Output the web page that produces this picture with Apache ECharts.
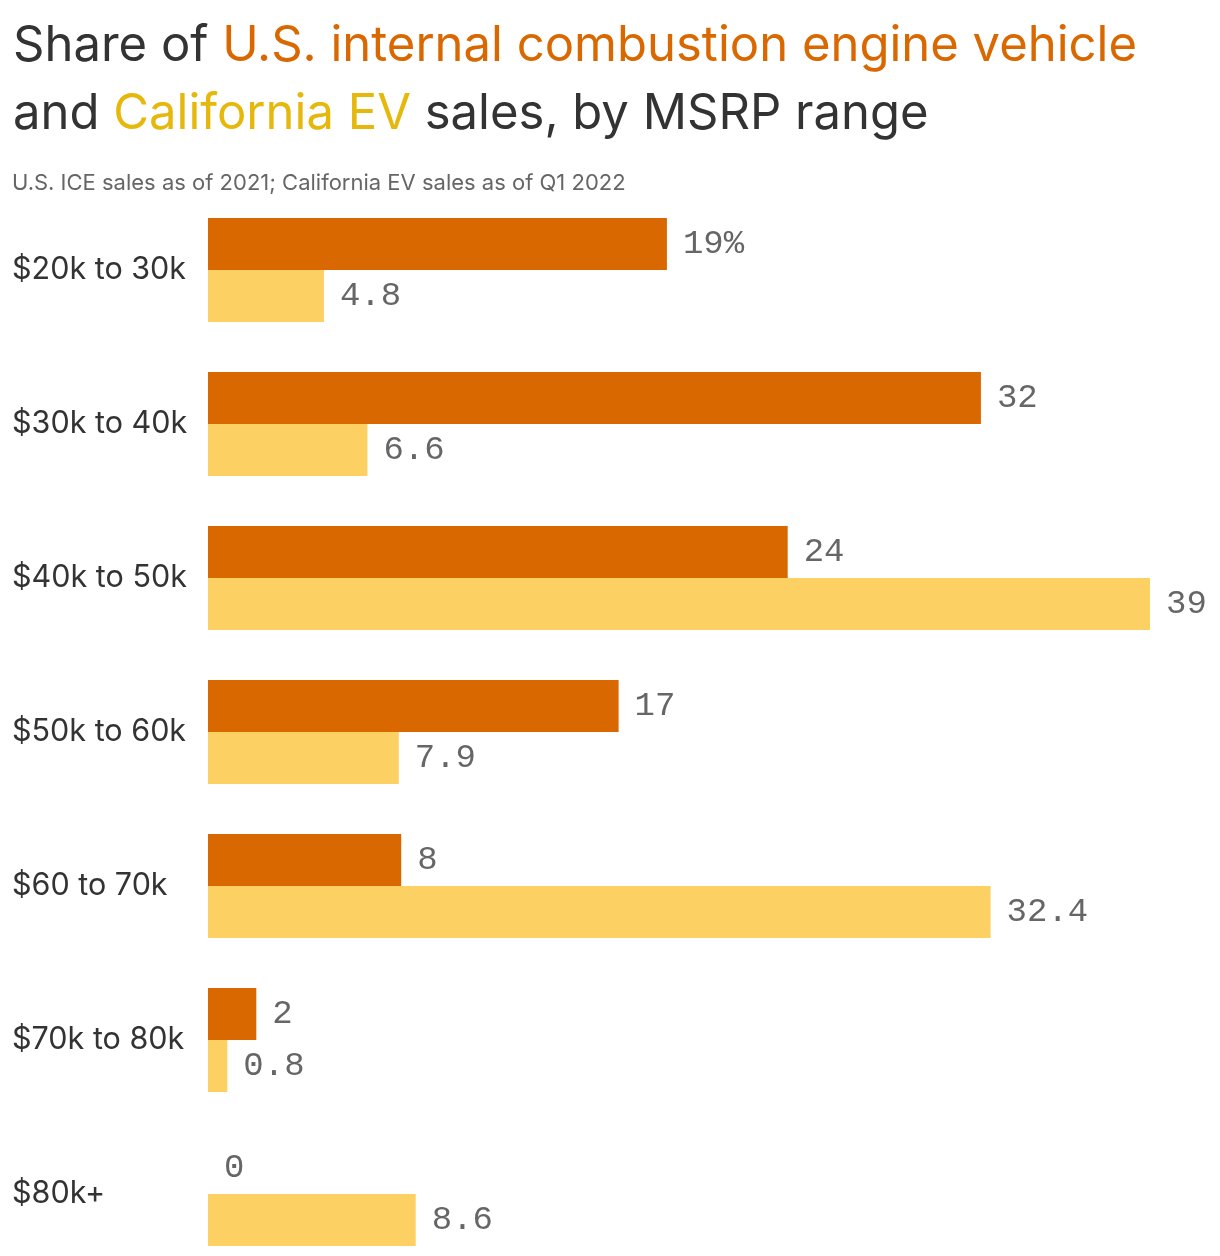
<!DOCTYPE html>
<html><head><meta charset="utf-8">
<script src="https://cdn.jsdelivr.net/npm/echarts@6/dist/echarts.min.js"></script>
<style>html,body{margin:0;padding:0;background:#fff}#c{width:1220px;height:1256px}</style>
</head><body><div id="c"></div>
<script>
const categories = ['$20k to 30k','$30k to 40k','$40k to 50k','$50k to 60k','$60 to 70k','$70k to 80k','$80k+'];
const iceValues = [19, 32, 24, 17, 8, 2, 0];
const evValues = [4.8, 6.6, 39, 7.9, 32.4, 0.8, 8.6];
const chart = echarts.init(document.getElementById('c'));
const labelStyle = {show:true, position:'right', distance:16, color:'#666', fontFamily:'Liberation Mono', fontSize:34};
chart.setOption({
  animation:false,
  title:[{
    left:8, top:7,
    text:'{a|Share of }{b|U.S. internal combustion engine vehicle}\n{a|and }{c|California EV}{a| sales, by MSRP range}',
    textStyle:{
      rich:{
        a:{fontFamily:'Inter', fontSize:49, fontWeight:'normal', color:'#333', lineHeight:68},
        b:{fontFamily:'Inter', fontSize:49, fontWeight:'normal', color:'#D96800', lineHeight:68},
        c:{fontFamily:'Inter', fontSize:49, fontWeight:'normal', color:'#E5B80B', lineHeight:68}
      }
    }
  },{
    left:7, top:167,
    text:'U.S. ICE sales as of 2021; California EV sales as of Q1 2022',
    textStyle:{fontFamily:'Inter', fontSize:22, fontWeight:'normal', color:'#666'}
  }],
  grid:{left:208, right:70, top:193, height:1078, outerBoundsMode:'none'},
  xAxis:{type:'value', min:0, max:39, show:false},
  yAxis:{type:'category', data:categories, inverse:true,
    axisLine:{show:false}, axisTick:{show:false},
    axisLabel:{align:'left', margin:196, fontFamily:'Inter', fontSize:30.5, color:'#333'}},
  series:[{
    name:'U.S. ICE', type:'bar', data:iceValues, barWidth:52, barGap:'0%',
    itemStyle:{color:'#D96800'},
    label:Object.assign({}, labelStyle, {formatter:p=>p.dataIndex===0?p.value+'%':String(p.value)})
  },{
    name:'California EV', type:'bar', data:evValues, barWidth:52, barGap:'0%',
    itemStyle:{color:'#FDD064'},
    label:Object.assign({}, labelStyle, {formatter:p=>String(p.value)})
  }]
});
</script></body></html>
